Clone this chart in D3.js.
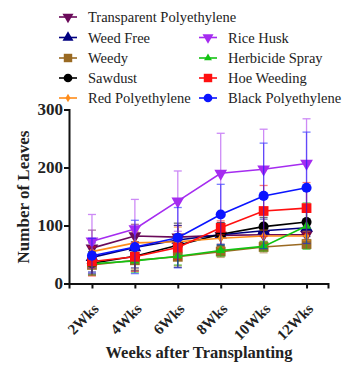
<!DOCTYPE html>
<html>
<head>
<meta charset="utf-8">
<script src="https://cdn.jsdelivr.net/npm/d3@7"></script>
<style>
  body { margin: 0; background: #fff; }
</style>
</head>
<body>
<div id="vis"></div>
<script>
var weeks = ['2Wks', '4Wks', '6Wks', '8Wks', '10Wks', '12Wks'];
var weekNums = [2, 4, 6, 8, 10, 12];
var yTicks = [0, 100, 200, 300];

var seriesNames = ['Transparent Polyethylene', 'Weed Free', 'Weedy', 'Sawdust', 'Red Polyethylene',
                   'Rice Husk', 'Herbicide Spray', 'Hoe Weeding', 'Black Polyethylene'];

var transparentPoly = [61, 82, 80, 83, 84, 84];
var weedFree        = [45, 62, 75, 84, 91, 96];
var weedy           = [32, 40, 46, 55, 63, 68];
var sawdust         = [35, 47, 66, 85, 98, 106];
var redPoly         = [55, 70, 72, 78, 82, 82];
var riceHusk        = [73, 94, 142, 190, 197, 207];
var herbicide       = [34, 39, 47, 57, 64, 99];
var hoeWeeding      = [38, 46, 62, 96, 125, 130];
var blackPoly       = [48, 63, 79, 119, 151, 165];

var transparentPolySd = [31, 20, 20, 15, 15, 15];
var weedFreeSd        = [25, 35, 25, 20, 20, 15];
var weedySd           = [15, 15, 15, 10, 10, 8];
var sawdustSd         = [20, 25, 38, 20, 16, 20];
var redPolySd         = [20, 20, 25, 15, 10, 8];
var riceHuskSd        = [46, 51, 52, 69, 69, 77];
var herbicideSd       = [20, 20, 15, 10, 8, 40];
var hoeWeedingSd      = [25, 25, 20, 12, 44, 44];
var blackPolySd       = [30, 46, 52, 52, 91, 96];

var allValues = [transparentPoly, weedFree, weedy, sawdust, redPoly, riceHusk, herbicide, hoeWeeding, blackPoly];
var allSd = [transparentPolySd, weedFreeSd, weedySd, sawdustSd, redPolySd, riceHuskSd, herbicideSd, hoeWeedingSd, blackPolySd];

var colors = ['#6a0a5a', '#000080', '#9a6a22', '#000000', '#ff8c1a', '#a52cf0', '#12c312', '#ff1010', '#0a14ff'];
var shapes = ['down', 'up', 'square', 'circle', 'diamond', 'down', 'smallup', 'square', 'circle'];

var serif = 'Liberation Serif, DejaVu Serif, serif';

var width = 343, height = 365;
var margin = {left: 69, top: 109.5, right: 15, bottom: 81.5};
var drawWidth = width - margin.left - margin.right;
var drawHeight = height - margin.top - margin.bottom;

var svg = d3.select('#vis').append('svg')
            .attr('width', width)
            .attr('height', height)
            .attr('font-family', serif);

var g = svg.append('g')
           .attr('transform', `translate(${margin.left}, ${margin.top})`);

var xScale = d3.scaleLinear().domain([0.93, 13]).range([0, drawWidth]);
var yScale = d3.scaleLinear().domain([0, 300]).range([drawHeight, 0]);

var symbolFor = (shape, big) => {
    var k = big ? 1 : 0.75;
    if (shape == 'circle') return d3.symbol(d3.symbolCircle, 80 * k);
    if (shape == 'square') return d3.symbol(d3.symbolSquare, 95 * k);
    if (shape == 'diamond') return d3.symbol(d3.symbolDiamond, 28 * k);
    if (shape == 'smallup') return d3.symbol(d3.symbolTriangle, 36 * k);
    return d3.symbol(d3.symbolTriangle, 70 * k);
};
var rotFor = (shape) => shape == 'down' ? ' rotate(180)' : '';

// axes
var xAxis = d3.axisBottom(xScale)
              .tickValues(weekNums)
              .tickFormat((d, i) => weeks[i])
              .tickSizeOuter(0)
              .tickSize(5);
var yAxis = d3.axisLeft(yScale)
              .tickValues(yTicks)
              .tickSizeOuter(0)
              .tickSize(5);

var xAxisG = g.append('g')
              .attr('transform', `translate(0, ${drawHeight})`)
              .call(xAxis)
              .attr('font-family', serif);
xAxisG.selectAll('.tick text')
      .attr('font-size', 15)
      .attr('font-weight', 'bold')
      .attr('fill', '#222')
      .attr('text-anchor', 'end')
      .attr('dx', 0)
      .attr('dy', 0)
      .attr('transform', 'translate(1.5, 20.5) rotate(-45)');

var yAxisG = g.append('g').call(yAxis)
              .attr('font-family', serif);
yAxisG.selectAll('.tick text')
      .attr('font-size', 17)
      .attr('font-weight', 'bold')
      .attr('fill', '#222')
      .attr('x', -6);

g.selectAll('.domain').attr('stroke', '#111').attr('stroke-width', 2);
g.selectAll('.tick line').attr('stroke', '#111').attr('stroke-width', 2);

svg.append('text')
   .attr('transform', `translate(23.5, ${margin.top + drawHeight / 2 + 0.5}) rotate(-90)`)
   .attr('text-anchor', 'middle')
   .attr('dominant-baseline', 'central')
   .attr('font-size', 17)
   .attr('font-weight', 'bold')
   .attr('fill', '#222')
   .text('Number of Leaves');

svg.append('text')
   .attr('x', 199)
   .attr('y', 358)
   .attr('text-anchor', 'middle')
   .attr('font-size', 16.5)
   .attr('font-weight', 'bold')
   .attr('fill', '#222')
   .text('Weeks after Transplanting');

// series
var line = d3.line()
             .x((d, i) => xScale(weekNums[i]))
             .y((d) => yScale(d));

allValues.forEach((vals, s) => {
    var sd = allSd[s];
    var c = colors[s];
    var sg = g.append('g');

    var eb = sg.selectAll('.err')
               .data(vals)
               .enter()
               .append('g')
               .attr('opacity', 0.55)
               .attr('stroke', c)
               .attr('stroke-width', 1.3);
    eb.append('line')
      .attr('x1', (d, i) => xScale(weekNums[i]))
      .attr('x2', (d, i) => xScale(weekNums[i]))
      .attr('y1', (d, i) => yScale(Math.max(0, d - sd[i])))
      .attr('y2', (d, i) => yScale(d + sd[i]));
    eb.append('line')
      .attr('x1', (d, i) => xScale(weekNums[i]) - 4)
      .attr('x2', (d, i) => xScale(weekNums[i]) + 4)
      .attr('y1', (d, i) => yScale(d + sd[i]))
      .attr('y2', (d, i) => yScale(d + sd[i]));
    eb.append('line')
      .attr('x1', (d, i) => xScale(weekNums[i]) - 4)
      .attr('x2', (d, i) => xScale(weekNums[i]) + 4)
      .attr('y1', (d, i) => yScale(Math.max(0, d - sd[i])))
      .attr('y2', (d, i) => yScale(Math.max(0, d - sd[i])));

    sg.append('path')
      .datum(vals)
      .attr('fill', 'none')
      .attr('stroke', c)
      .attr('stroke-width', 1.6)
      .attr('d', line);

    sg.selectAll('.pt')
      .data(vals)
      .enter()
      .append('path')
      .attr('fill', c)
      .attr('transform', (d, i) => `translate(${xScale(weekNums[i])}, ${yScale(d)})` + rotFor(shapes[s]))
      .attr('d', symbolFor(shapes[s], true));
});

// legend
var legendRows = [17, 37.5, 58, 78, 98];
var legendItems = seriesNames.map((name, i) => {
    var col = i < 5 ? 0 : 1;
    var row = i < 5 ? i : i - 4;
    return {name: name, i: i, x: col == 0 ? 68 : 208, y: legendRows[row]};
});

var leg = svg.append('g').selectAll('g')
             .data(legendItems)
             .enter()
             .append('g')
             .attr('transform', (d) => `translate(${d.x}, ${d.y})`);
leg.append('line')
   .attr('x1', -9).attr('x2', 9)
   .attr('stroke', (d) => colors[d.i])
   .attr('stroke-width', 1.6);
leg.append('path')
   .attr('fill', (d) => colors[d.i])
   .attr('transform', (d) => rotFor(shapes[d.i]))
   .attr('d', (d) => symbolFor(shapes[d.i], false)());
leg.append('text')
   .attr('x', 20)
   .attr('dy', '0.35em')
   .attr('font-size', 14.5)
   .attr('fill', '#222')
   .text((d) => d.name);
</script>
</body>
</html>
